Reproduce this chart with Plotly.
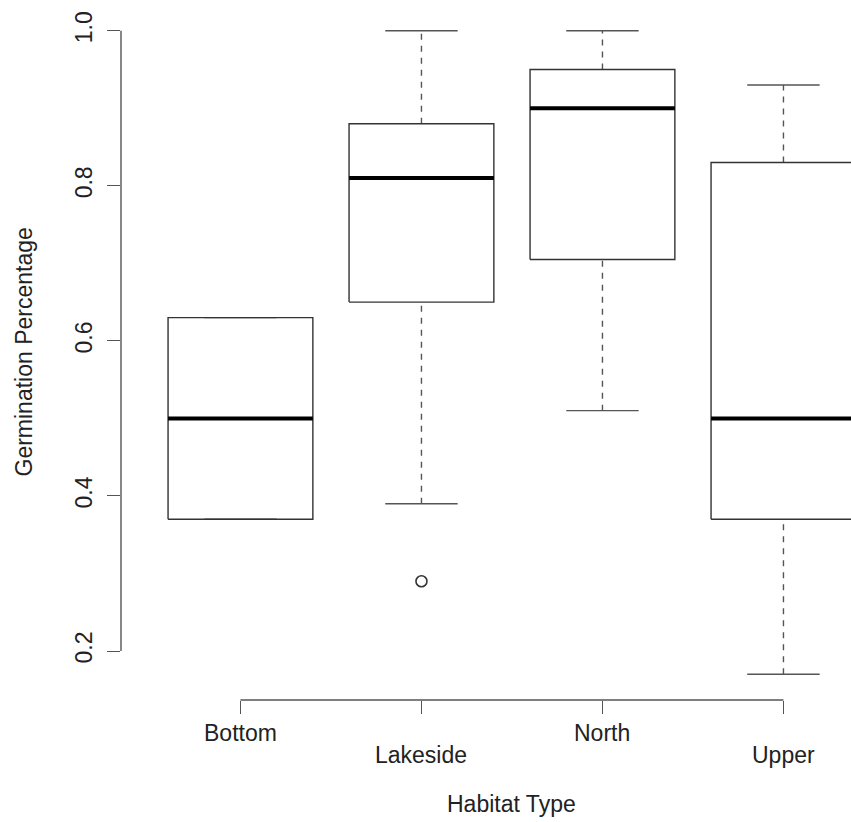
import plotly.graph_objects as go

categories = ["Bottom", "Lakeside", "North", "Upper"]
lower_whisker = [0.37, 0.39, 0.51, 0.17]
q1 = [0.37, 0.65, 0.705, 0.37]
median = [0.50, 0.81, 0.90, 0.50]
q3 = [0.63, 0.88, 0.95, 0.83]
upper_whisker = [0.63, 1.00, 1.00, 0.93]
outlier_cat = ["Lakeside"]
outlier_val = [0.29]
y_ticks = [0.2, 0.4, 0.6, 0.8, 1.0]

FONT = "Liberation Sans, Arial, Helvetica, sans-serif"
FS = 23
AXC = "#555555"
BOXC = "#333333"

pos = {c: i + 1 for i, c in enumerate(categories)}
HALF = 0.4
CAP = 0.2

fig = go.Figure()

for i, c in enumerate(categories):
    x = pos[c]
    # whiskers (dashed)
    for a, b in [(lower_whisker[i], q1[i]), (q3[i], upper_whisker[i])]:
        fig.add_trace(go.Scatter(x=[x, x], y=[a, b], mode="lines",
                                 line=dict(color=AXC, width=1.4, dash="6px,6px"),
                                 hoverinfo="skip", showlegend=False))
    # staples
    for v in [lower_whisker[i], upper_whisker[i]]:
        fig.add_trace(go.Scatter(x=[x - CAP, x + CAP], y=[v, v], mode="lines",
                                 line=dict(color=AXC, width=1.4),
                                 hoverinfo="skip", showlegend=False))
    # box
    fig.add_trace(go.Scatter(x=[x - HALF, x + HALF, x + HALF, x - HALF, x - HALF],
                             y=[q1[i], q1[i], q3[i], q3[i], q1[i]], mode="lines",
                             line=dict(color=BOXC, width=1.4),
                             hoverinfo="skip", showlegend=False))
    # median
    fig.add_trace(go.Scatter(x=[x - HALF, x + HALF], y=[median[i], median[i]], mode="lines",
                             line=dict(color="#000000", width=4),
                             hoverinfo="skip", showlegend=False))

fig.add_trace(go.Scatter(x=[pos[c] for c in outlier_cat], y=outlier_val, mode="markers",
                         marker=dict(symbol="circle-open", size=11, color=BOXC,
                                     line=dict(width=1.6, color=BOXC)),
                         hoverinfo="skip", showlegend=False))

# axis lines spanning first..last tick (R style)
fig.add_shape(type="line", xref="x", yref="paper", x0=1, x1=len(categories), y0=0, y1=0,
              line=dict(color=AXC, width=1.4))
fig.add_shape(type="line", xref="paper", yref="y", x0=0, x1=0, y0=y_ticks[0], y1=y_ticks[-1],
              line=dict(color=AXC, width=1.4))

# staggered category labels
for i, c in enumerate(categories):
    fig.add_annotation(x=pos[c], y=0, xref="x", yref="paper", text=c, showarrow=False,
                       yanchor="top", yshift=-18 if i % 2 == 0 else -40,
                       font=dict(family=FONT, size=FS, color="#222222"))

fig.add_annotation(x=2.5, y=0, xref="x", yref="paper", text="Habitat Type", showarrow=False,
                   yanchor="top", yshift=-89, font=dict(family=FONT, size=FS, color="#222222"))
fig.add_annotation(x=0, y=(0.1368 + 1.0332) / 2, xref="paper", yref="y", text="Germination Percentage",
                   showarrow=False, textangle=-90, xanchor="center", xshift=-98,
                   font=dict(family=FONT, size=FS, color="#222222"))

fig.update_layout(
    width=851, height=822,
    margin=dict(l=121, r=0, t=5, b=122),
    plot_bgcolor="white", paper_bgcolor="white",
    showlegend=False,
)
fig.update_xaxes(range=[0.34, 0.34 + 730 / 181], tickvals=[pos[c] for c in categories],
                 showticklabels=False, ticks="outside", ticklen=13, tickwidth=1.4, tickcolor=AXC,
                 showgrid=False, zeroline=False, showline=False)
fig.update_yaxes(range=[0.1368, 1.0332], tickvals=y_ticks, tickformat=".1f", tickangle=-90,
                 ticks="outside", ticklen=13, tickwidth=1.4, tickcolor=AXC,
                 ticklabelstandoff=6,
                 tickfont=dict(family=FONT, size=FS, color="#222222"),
                 showgrid=False, zeroline=False, showline=False)

fig.write_html("out.html")
